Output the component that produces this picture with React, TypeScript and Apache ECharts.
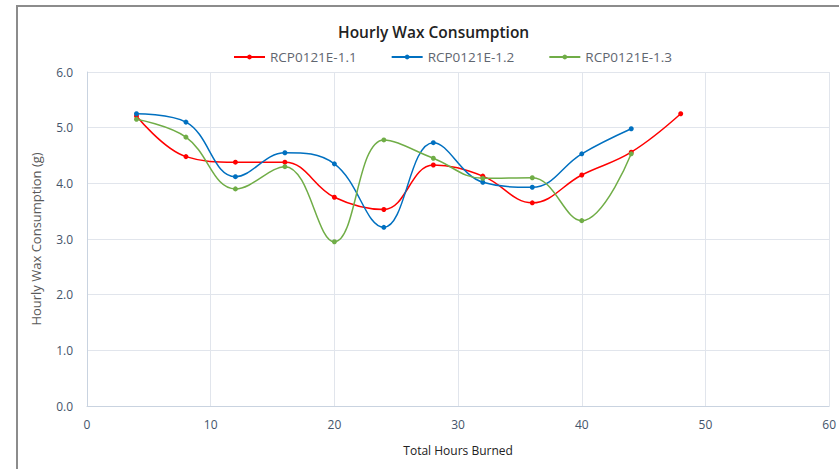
import React, { useEffect, useRef } from "react";
import * as echarts from "echarts";

const hours = [4, 8, 12, 16, 20, 24, 28, 32, 36, 40, 44, 48];
const seriesNames = ["RCP0121E-1.1", "RCP0121E-1.2", "RCP0121E-1.3"];
const rcp11 = [5.21, 4.48, 4.38, 4.38, 3.75, 3.53, 4.33, 4.13, 3.65, 4.15, 4.56, 5.25];
const rcp12 = [5.25, 5.1, 4.12, 4.55, 4.35, 3.21, 4.73, 4.02, 3.93, 4.53, 4.98];
const rcp13 = [5.15, 4.83, 3.9, 4.3, 2.95, 4.78, 4.45, 4.09, 4.1, 3.33, 4.53];
const colors = ["#FF0000", "#0070C0", "#70AD47"];
const xTicks = [0, 10, 20, 30, 40, 50, 60];

export default function App() {
  const ref = useRef<HTMLDivElement>(null);
  useEffect(() => {
    if (!ref.current) return;
    const chart = echarts.init(ref.current, null, { renderer: "svg" });
    const all = [rcp11, rcp12, rcp13];
    const font = "'Open Sans', 'Noto Sans', sans-serif";
    chart.setOption({
      animation: false,
      textStyle: { fontFamily: font },
      title: {
        text: "Hourly Wax Consumption",
        left: 333,
        top: 19,
        textStyle: { fontSize: 15.5, fontWeight: 600, color: "#222", fontFamily: font },
      },
      legend: {
        top: 45,
        left: 228,
        itemGap: 34,
        itemWidth: 31,
        itemHeight: 6,
        textStyle: { fontSize: 13.5, color: "#5f6670", fontFamily: font },
        data: seriesNames,
      },
      graphic: [
        {
          type: "rect",
          shape: { x: 17, y: 6, width: 900, height: 520 },
          style: { fill: "none", stroke: "#8c8c8c", lineWidth: 2 },
          silent: true,
        },
      ],
      grid: { left: 87, right: 7, top: 72, bottom: 63 },
      xAxis: {
        type: "value",
        min: xTicks[0],
        max: xTicks[xTicks.length - 1],
        interval: 10,
        name: "Total Hours Burned",
        nameLocation: "middle",
        nameGap: 38,
        nameTextStyle: { fontSize: 12, color: "#222", fontFamily: font },
        axisLine: { show: true, lineStyle: { color: "#C9D3E0" } },
        axisTick: { show: false },
        axisLabel: { fontSize: 12, color: "#44546A", margin: 12 },
        splitLine: { show: true, lineStyle: { color: "#E1E5EC" } },
      },
      yAxis: {
        type: "value",
        min: 0,
        max: 6,
        interval: 1,
        name: "Hourly Wax Consumption (g)",
        nameLocation: "middle",
        nameGap: 45,
        nameTextStyle: { fontSize: 13, color: "#595959", fontFamily: font },
        axisLine: { show: true, lineStyle: { color: "#C9D3E0" } },
        axisTick: { show: false },
        axisLabel: {
          fontSize: 12,
          color: "#44546A",
          margin: 14,
          formatter: (v: number) => v.toFixed(1),
        },
        splitLine: { show: true, lineStyle: { color: "#E1E5EC" } },
      },
      series: all.map((vals, i) => ({
        name: seriesNames[i],
        type: "line",
        smooth: 0.4,
        symbol: "circle",
        symbolSize: 5,
        color: colors[i],
        lineStyle: { width: 1.5, color: colors[i] },
        itemStyle: { color: colors[i] },
        data: vals.map((v, j) => [hours[j], v]),
      })),
    });
    return () => chart.dispose();
  }, []);
  return (
    <div
      ref={ref}
      style={{ position: "absolute", left: 0, top: 0, width: 839, height: 469, background: "#fff" }}
    />
  );
}
